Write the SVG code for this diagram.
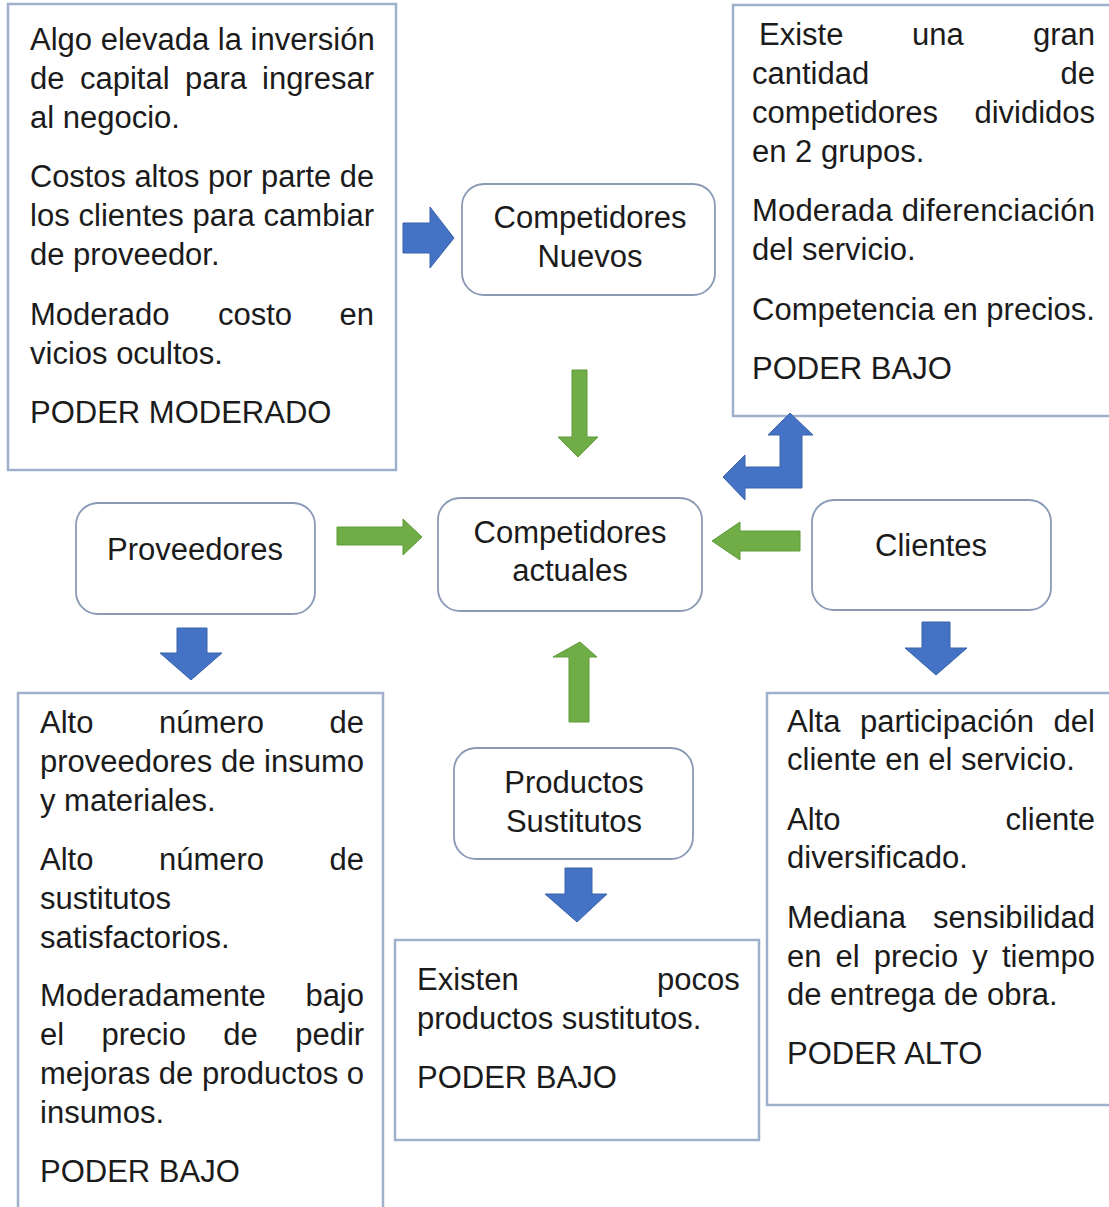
<svg xmlns="http://www.w3.org/2000/svg" width="1109" height="1207" viewBox="0 0 1109 1207">
<style>
.t{font-family:"Liberation Sans",Arial,sans-serif;font-size:31px;fill:#1b1b1b}
.c{text-anchor:middle}
.box{fill:#ffffff;stroke:#9fb0cc;stroke-width:2.5}
.node{fill:#ffffff;stroke:#8a9ab5;stroke-width:1.8}
.blue{fill:#4472c4;stroke:#3b63ab;stroke-width:1}
.green{fill:#70ad47;stroke:#5f9a3a;stroke-width:1}
</style>
<rect width="1109" height="1207" fill="#ffffff"/>

<g id="box-nuevos-info">
<rect class="box" x="8" y="4" width="388" height="466"/>
<text class="t" x="30" y="50">Algo elevada la inversión</text>
<text class="t" y="89"><tspan x="30">de</tspan><tspan x="80">capital</tspan><tspan x="185">para</tspan><tspan x="262">ingresar</tspan></text>
<text class="t" x="30" y="128">al negocio.</text>
<text class="t" x="30" y="187" textLength="344" lengthAdjust="spacingAndGlyphs">Costos altos por parte de</text>
<text class="t" x="30" y="226" textLength="344" lengthAdjust="spacing">los clientes para cambiar</text>
<text class="t" x="30" y="265">de proveedor.</text>
<text class="t" y="325"><tspan x="30">Moderado</tspan><tspan x="218">costo</tspan><tspan x="339.5">en</tspan></text>
<text class="t" x="30" y="364">vicios ocultos.</text>
<text class="t" x="30" y="423">PODER MODERADO</text>
</g>

<g id="box-actuales-info">
<rect class="box" x="733" y="5" width="380" height="411"/>
<text class="t" y="45"><tspan x="759">Existe</tspan><tspan x="912">una</tspan><tspan x="1033">gran</tspan></text>
<text class="t" y="84"><tspan x="752">cantidad</tspan><tspan x="1060.5">de</tspan></text>
<text class="t" y="123"><tspan x="752">competidores</tspan><tspan x="974.4">divididos</tspan></text>
<text class="t" x="752" y="162">en 2 grupos.</text>
<text class="t" x="752" y="221" textLength="343" lengthAdjust="spacing">Moderada diferenciación</text>
<text class="t" x="752" y="260">del servicio.</text>
<text class="t" x="752" y="320">Competencia en precios.</text>
<text class="t" x="752" y="379">PODER BAJO</text>
</g>

<g id="node-nuevos">
<rect class="node" x="462" y="184" width="253" height="111" rx="22"/>
<text class="t c" x="590" y="228">Competidores</text>
<text class="t c" x="590" y="267">Nuevos</text>
</g>

<g id="node-actuales">
<rect class="node" x="438" y="498" width="264" height="113" rx="22"/>
<text class="t c" x="570" y="543">Competidores</text>
<text class="t c" x="570" y="581">actuales</text>
</g>

<g id="node-proveedores">
<rect class="node" x="76" y="503" width="239" height="111" rx="22"/>
<text class="t c" x="195" y="560">Proveedores</text>
</g>

<g id="node-clientes">
<rect class="node" x="812" y="500" width="239" height="110" rx="22"/>
<text class="t c" x="931" y="556">Clientes</text>
</g>

<g id="node-sustitutos">
<rect class="node" x="454" y="748" width="239" height="111" rx="22"/>
<text class="t c" x="574" y="793">Productos</text>
<text class="t c" x="574" y="832">Sustitutos</text>
</g>

<g id="box-proveedores-info">
<rect class="box" x="18" y="693" width="365" height="520"/>
<text class="t" y="733"><tspan x="40">Alto</tspan><tspan x="159">número</tspan><tspan x="329.5">de</tspan></text>
<text class="t" x="40" y="772" textLength="324" lengthAdjust="spacing">proveedores de insumo</text>
<text class="t" x="40" y="811">y materiales.</text>
<text class="t" y="870"><tspan x="40">Alto</tspan><tspan x="159">número</tspan><tspan x="329.5">de</tspan></text>
<text class="t" x="40" y="909">sustitutos</text>
<text class="t" x="40" y="948">satisfactorios.</text>
<text class="t" y="1006"><tspan x="40">Moderadamente</tspan><tspan x="305.4">bajo</tspan></text>
<text class="t" y="1045"><tspan x="40">el</tspan><tspan x="101.5">precio</tspan><tspan x="223.3">de</tspan><tspan x="295.2">pedir</tspan></text>
<text class="t" x="40" y="1084" textLength="324" lengthAdjust="spacing">mejoras de productos o</text>
<text class="t" x="40" y="1123">insumos.</text>
<text class="t" x="40" y="1182">PODER BAJO</text>
</g>

<g id="box-sustitutos-info">
<rect class="box" x="395" y="940" width="364" height="200"/>
<text class="t" y="990"><tspan x="417">Existen</tspan><tspan x="657">pocos</tspan></text>
<text class="t" x="417" y="1029">productos sustitutos.</text>
<text class="t" x="417" y="1088">PODER BAJO</text>
</g>

<g id="box-clientes-info">
<rect class="box" x="767" y="693" width="346" height="412"/>
<text class="t" y="732"><tspan x="787">Alta</tspan><tspan x="860">participación</tspan><tspan x="1053.6">del</tspan></text>
<text class="t" x="787" y="770">cliente en el servicio.</text>
<text class="t" y="830"><tspan x="787">Alto</tspan><tspan x="1005.4">cliente</tspan></text>
<text class="t" x="787" y="868">diversificado.</text>
<text class="t" y="928"><tspan x="787">Mediana</tspan><tspan x="933">sensibilidad</tspan></text>
<text class="t" y="967"><tspan x="787">en</tspan><tspan x="835.6">el</tspan><tspan x="873.8">precio</tspan><tspan x="972.3">y</tspan><tspan x="1001.9">tiempo</tspan></text>
<text class="t" x="787" y="1005">de entrega de obra.</text>
<text class="t" x="787" y="1064">PODER ALTO</text>
</g>

<g id="connectors">
<path class="blue" d="M403,223 L430,223 L430,207 L454,238 L430,268 L430,253 L403,253 Z"/>
<path class="green" d="M572,370 L587,370 L587,437 L598,437 L578,457 L558,437 L572,437 Z"/>
<path class="blue" d="M790,413 L813,435 L802,435 L802,488 L745,488 L745,500 L723,477 L745,455 L745,467 L780,467 L780,435 L768,435 Z"/>
<path class="green" d="M337,527 L403,527 L403,519 L422,537 L403,555 L403,545 L337,545 Z"/>
<path class="green" d="M800,531 L740,531 L740,522 L712,541 L740,560 L740,551 L800,551 Z"/>
<path class="blue" d="M177,628 L207,628 L207,653 L222,653 L191,680 L160,653 L177,653 Z"/>
<path class="blue" d="M922,622 L950,622 L950,648 L967,648 L936,675 L905,648 L922,648 Z"/>
<path class="green" d="M580,642 L597,657 L589,657 L589,722 L569,722 L569,657 L553,657 Z"/>
<path class="blue" d="M565,868 L592,868 L592,894 L607,894 L577,922 L545,894 L565,894 Z"/>
</g>
</svg>
